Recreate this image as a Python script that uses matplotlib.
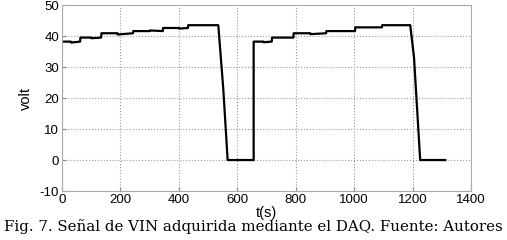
import matplotlib
matplotlib.use("Agg")
import matplotlib.pyplot as plt

# breakpoints of the acquired VIN signal (time in s, voltage in V)
t = [0, 30, 31, 62, 63, 100, 101, 134, 135, 190, 191, 243, 244, 300, 301, 345, 346, 400, 401, 431, 432, 535,
     552, 567, 656, 656, 690, 691, 718, 719, 792, 793, 850, 851, 904, 905, 1003, 1004, 1095, 1096, 1192,
     1205, 1226, 1312]
v = [38.2, 38.2, 37.9, 38.2, 39.5, 39.5, 39.3, 39.5, 40.9, 40.9, 40.5, 40.9, 41.6, 41.6, 41.8, 41.6, 42.6,
     42.6, 42.4, 42.6, 43.5, 43.5,
     23.0, 0.0, 0.0, 38.2, 38.2, 38.0, 38.2, 39.5, 39.5, 40.9, 40.9, 40.6, 40.9, 41.6, 41.6, 42.8, 42.8,
     43.5, 43.5,
     33.0, 0.0, 0.0]

xticks = [0, 200, 400, 600, 800, 1000, 1200, 1400]
yticks = [-10, 0, 10, 20, 30, 40, 50]

plt.rcParams['font.family'] = ['Liberation Sans', 'DejaVu Sans']
plt.rcParams['axes.unicode_minus'] = False
fig = plt.figure(figsize=(5.07, 2.40), dpi=100)
ax = fig.add_axes([0.1223, 0.204, 0.8067, 0.775])
ax.plot(t, v, color='black', lw=1.6)
ax.set_xlim(0, 1400)
ax.set_ylim(-10, 50)
ax.set_xticks(xticks)
ax.set_yticks(yticks)
ax.grid(True, linestyle=':', color='#999999', lw=0.8)
ax.tick_params(direction='in', labelsize=9.5, length=3, color='#888888', pad=2)
for s in ax.spines.values():
    s.set_color('#aaaaaa')
ax.set_xlabel('t(s)', fontsize=10.5, labelpad=0)
ax.set_ylabel('volt', fontsize=10.5, labelpad=5)
fig.text(0.5, 0.058, 'Fig. 7. Señal de VIN adquirida mediante el DAQ. Fuente: Autores',
         ha='center', va='center', fontsize=10.8, family=['DejaVu Serif'])
fig.savefig('out.png', dpi=100)
